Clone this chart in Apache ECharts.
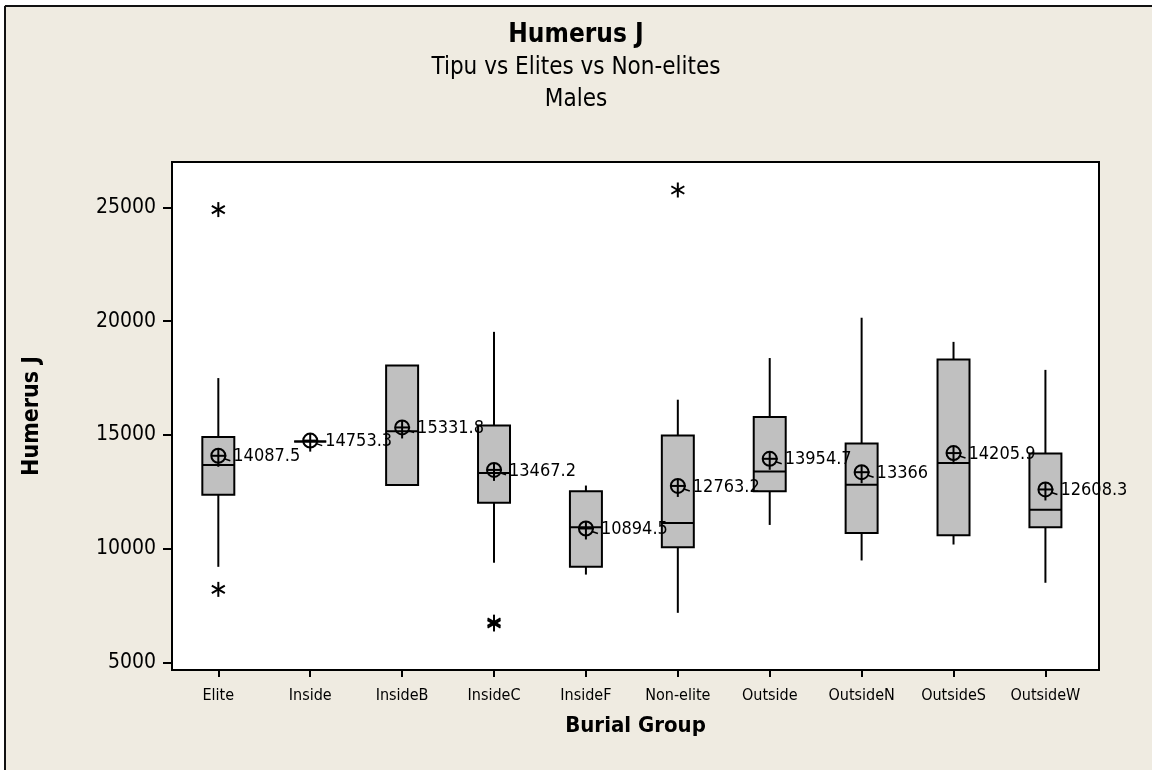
<!DOCTYPE html>
<html>
<head>
<meta charset="utf-8">
<script src="https://cdn.jsdelivr.net/npm/echarts@6/dist/echarts.min.js"></script>
<style>
html,body{margin:0;padding:0;background:#fff;}
#chart{width:1152px;height:770px;}
</style>
</head>
<body>
<div id="chart"></div>
<script>
// ---- data ----
const categories = ['Elite','Inside','InsideB','InsideC','InsideF','Non-elite','Outside','OutsideN','OutsideS','OutsideW'];
const whiskerLow  = [9210, 14720, 12800,  9390,  8870,  7190, 11050,  9490, 10190,  8510];
const q1          = [12380,14720, 12800, 12020,  9210, 10070, 12530, 10700, 10600, 10950];
const median      = [13680,14720, 15160, 13330, 10950, 11140, 13400, 12810, 13770, 11720];
const q3          = [14910,14720, 18050, 15420, 12530, 14980, 15790, 14630, 18320, 14190];
const whiskerHigh = [17500,14720, 18050, 19530, 12780, 16550, 18380, 20150, 19090, 17860];
const means       = [14087.5, 14753.3, 15331.8, 13467.2, 10894.5, 12763.2, 13954.7, 13366, 14205.9, 12608.3];
const outlierGroup = [0, 0, 3, 3, 5];
const outlierValue = [24900, 8220, 6700, 6780, 25760];
const yTicks = [5000, 10000, 15000, 20000, 25000];

const FONT = '"DejaVu Sans Condensed", "DejaVu Sans", sans-serif';

const boxRows = categories.map((c, i) => [i, whiskerLow[i], q1[i], median[i], q3[i], whiskerHigh[i]]);
const meanRows = categories.map((c, i) => [i, means[i]]);
const outlierRows = outlierGroup.map((g, k) => [g, outlierValue[k]]);

const chart = echarts.init(document.getElementById('chart'), null, {renderer: 'canvas'});

const black = '#000';
const option = {
  backgroundColor: '#EFEBE1',
  animation: false,
  title: {
    text: 'Humerus J',
    subtext: 'Tipu vs Elites vs Non-elites\nMales',
    left: 'center',
    top: 20,
    padding: 0,
    itemGap: 2,
    textStyle: {fontFamily: FONT, fontSize: 26, fontWeight: 'bold', color: black, lineHeight: 30},
    subtextStyle: {fontFamily: FONT, fontSize: 24, color: black, lineHeight: 32}
  },
  graphic: [
    {type: 'rect', shape: {x: 0, y: 0, width: 1152, height: 5}, style: {fill: '#fff'}, silent: true},
    {type: 'rect', shape: {x: 0, y: 0, width: 4, height: 770}, style: {fill: '#fff'}, silent: true},
    {type: 'line', shape: {x1: 5, y1: 6, x2: 1152, y2: 6}, style: {stroke: '#111', lineWidth: 2}, silent: true},
    {type: 'line', shape: {x1: 5, y1: 6, x2: 5, y2: 770}, style: {stroke: '#111', lineWidth: 2}, silent: true}
  ],
  grid: {
    left: 172, top: 162, right: 53, bottom: 100,
    show: true, backgroundColor: '#fff', borderColor: black, borderWidth: 2,
    containLabel: false, outerBoundsMode: 'none'
  },
  xAxis: {
    type: 'value',
    min: -0.504, max: 9.583,
    name: 'Burial Group',
    nameLocation: 'middle',
    nameGap: 45,
    nameTextStyle: {fontFamily: FONT, fontSize: 22, fontWeight: 'bold', color: black},
    axisLine: {show: false, onZero: false},
    splitLine: {show: false},
    axisTick: {show: true, length: 7, lineStyle: {color: black, width: 2}, customValues: categories.map((c, i) => i)},
    axisLabel: {
      fontFamily: FONT, fontSize: 16, color: black, margin: 18,
      customValues: categories.map((c, i) => i),
      formatter: v => categories[Math.round(v)]
    }
  },
  yAxis: {
    type: 'value',
    min: 4679, max: 26990,
    name: 'Humerus J',
    nameLocation: 'middle',
    nameGap: 128,
    nameTextStyle: {fontFamily: FONT, fontSize: 23, fontWeight: 'bold', color: black},
    axisLine: {show: false, onZero: false},
    splitLine: {show: false},
    axisTick: {show: true, length: 9, lineStyle: {color: black, width: 2}, customValues: yTicks},
    axisLabel: {fontFamily: FONT, fontSize: 21, color: black, margin: 16, customValues: yTicks, formatter: v => String(v)}
  },
  series: [
    {
      type: 'custom',
      name: 'boxes',
      data: boxRows,
      encode: {x: 0, y: [1, 2, 3, 4, 5]},
      renderItem: function (params, api) {
        const i = api.value(0);
        const pLow = api.coord([i, api.value(1)]);
        const pQ1 = api.coord([i, api.value(2)]);
        const pMed = api.coord([i, api.value(3)]);
        const pQ3 = api.coord([i, api.value(4)]);
        const pHigh = api.coord([i, api.value(5)]);
        const w = api.size([0.348, 0])[0];
        const x = pMed[0];
        const ls = {stroke: black, lineWidth: 2};
        return {
          type: 'group',
          children: [
            {type: 'line', shape: {x1: x, y1: pHigh[1], x2: x, y2: pQ3[1]}, style: ls},
            {type: 'line', shape: {x1: x, y1: pQ1[1], x2: x, y2: pLow[1]}, style: ls},
            {type: 'rect', shape: {x: x - w / 2, y: pQ3[1], width: w, height: pQ1[1] - pQ3[1]}, style: {fill: '#C0C0C0', stroke: black, lineWidth: 2}},
            {type: 'line', shape: {x1: x - w / 2, y1: pMed[1], x2: x + w / 2, y2: pMed[1]}, style: ls}
          ]
        };
      },
      z: 2
    },
    {
      type: 'custom',
      name: 'outliers',
      data: outlierRows,
      encode: {x: 0, y: 1},
      renderItem: function (params, api) {
        const p = api.coord([api.value(0), api.value(1)]);
        const r = 7.5;
        const dx = r * Math.cos(Math.PI / 6), dy = r * Math.sin(Math.PI / 6);
        const ls = {stroke: black, lineWidth: 2};
        return {
          type: 'group',
          children: [
            {type: 'line', shape: {x1: p[0], y1: p[1] - r, x2: p[0], y2: p[1] + r}, style: ls},
            {type: 'line', shape: {x1: p[0] - dx, y1: p[1] - dy, x2: p[0] + dx, y2: p[1] + dy}, style: ls},
            {type: 'line', shape: {x1: p[0] - dx, y1: p[1] + dy, x2: p[0] + dx, y2: p[1] - dy}, style: ls}
          ]
        };
      },
      z: 3
    },
    {
      type: 'custom',
      name: 'means',
      data: meanRows,
      encode: {x: 0, y: 1},
      renderItem: function (params, api) {
        const v = api.value(1);
        const p = api.coord([api.value(0), v]);
        const r = 7;
        const ls = {stroke: black, lineWidth: 2, fill: null};
        return {
          type: 'group',
          children: [
            {type: 'circle', shape: {cx: p[0], cy: p[1], r: r}, style: {stroke: black, lineWidth: 2, fill: 'none'}},
            {type: 'line', shape: {x1: p[0] - r, y1: p[1], x2: p[0] + r + 1, y2: p[1]}, style: ls},
            {type: 'line', shape: {x1: p[0], y1: p[1] - r, x2: p[0], y2: p[1] + r + 4}, style: ls},
            {type: 'polyline', shape: {points: [[p[0] + r - 1, p[1] + 3], [p[0] + r + 2, p[1] + 4], [p[0] + r + 5, p[1] + 5]]}, style: {stroke: black, lineWidth: 1.5, fill: null}},
            {type: 'text', x: p[0] + 15, y: p[1] + 1, style: {text: String(v), fontFamily: FONT, fontSize: 18, fill: black, align: 'left', verticalAlign: 'middle'}}
          ]
        };
      },
      z: 4
    }
  ]
};
chart.setOption(option);
</script>
</body>
</html>
